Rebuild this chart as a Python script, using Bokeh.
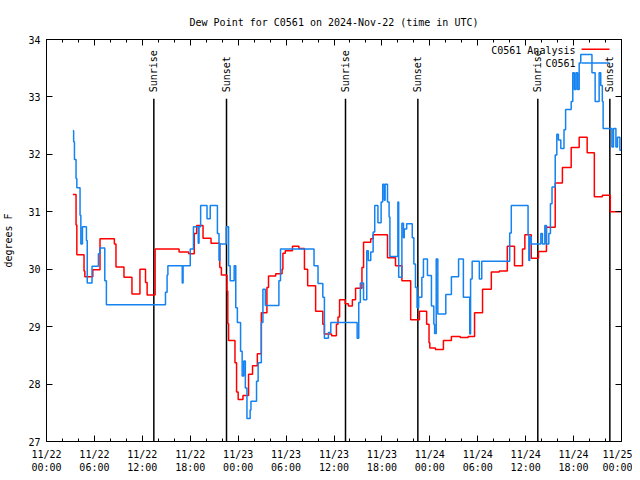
import math
from bokeh.plotting import figure
from bokeh.models import FixedTicker, LinearAxis, CustomJSTickFormatter, Range1d
from bokeh.core.properties import value
from bokeh.embed import file_html
from bokeh.resources import INLINE

FONT = "DejaVu Sans Mono"

# hours since 2024-11-22 00:00 UTC
analysis_hours = [3.3, 3.7, 3.8, 4.7, 4.8, 5.8, 6.7, 8.5, 8.7, 9.7, 10.7, 11.7, 12.4, 12.6,
                  13.6, 16.6, 17.8, 18.5, 18.8, 19.6, 20.6, 21.7, 21.9, 22.6, 22.7, 22.8,
                  23.6, 23.8, 24.0, 24.6, 25.3, 25.8, 26.4, 26.9, 27.6, 27.8, 28.7, 29.5,
                  29.6, 29.9, 30.8, 31.6, 32.3, 32.7, 33.7, 34.6, 34.8, 35.7, 36.3, 36.5,
                  36.7, 37.4, 37.8, 38.3, 38.7, 39.5, 39.7, 40.6, 40.9, 42.7, 43.7, 44.5,
                  45.6, 46.7, 47.6, 47.9, 48.0, 48.7, 49.7, 50.7, 51.8, 52.8, 53.6, 54.6,
                  55.7, 56.7, 57.7, 58.6, 59.6, 59.9, 60.7, 61.6, 62.6, 63.7, 64.6, 65.7,
                  66.7, 67.7, 68.6, 69.6, 70.6, 72.0]
analysis_dewpt = [31.30, 30.77, 30.25, 29.97, 29.87, 29.99, 30.53, 30.44, 30.04, 29.86, 29.57,
                  30.00, 29.77, 29.55, 30.35, 30.30, 30.27, 30.62, 30.76, 30.54, 30.45, 30.03,
                  29.90, 29.62, 29.05, 28.76, 28.37, 27.86, 27.73, 27.80, 28.17, 28.32, 28.53,
                  29.24, 29.68, 29.88, 29.92, 30.00, 30.28, 30.32, 30.40, 30.36, 30.00, 29.71,
                  29.27, 29.04, 28.87, 28.84, 29.04, 29.17, 29.47, 29.40, 29.36, 29.47, 29.67,
                  30.03, 30.47, 30.53, 30.60, 30.20, 30.06, 29.80, 29.12, 29.27, 29.04, 28.72,
                  28.63, 28.60, 28.76, 28.83, 28.81, 28.83, 29.24, 29.65, 29.95, 29.97, 30.40,
                  30.06, 30.35, 30.60, 30.19, 30.31, 30.73, 31.50, 31.77, 32.12, 32.30, 32.03,
                  31.26, 31.29, 31.00, 31.00]

station_hours = [3.3, 3.4, 3.5, 3.7, 3.8, 4.2, 4.3, 4.5, 5.0, 5.1, 5.7, 6.5, 6.7, 7.3, 7.5,
                 14.9, 15.1, 15.2, 17.0, 17.1, 18.0, 18.4, 19.0, 19.1, 19.3, 20.1, 20.5,
                 21.4, 21.6, 21.7, 22.5, 22.8, 23.0, 23.5, 23.7, 23.9, 24.3, 24.5, 24.7,
                 24.9, 25.1, 25.5, 25.6, 26.3, 26.5, 26.9, 27.1, 27.4, 29.1, 29.3, 33.5,
                 34.0, 34.6, 34.8, 35.3, 35.6, 38.9, 39.1, 39.3, 39.7, 40.1, 40.3, 40.6,
                 40.9, 41.1, 41.5, 41.9, 42.1, 42.3, 42.4, 42.7, 42.9, 43.0, 44.0, 44.1,
                 44.5, 44.7, 44.8, 45.1, 45.8, 46.0, 46.2, 46.4, 46.6, 47.0, 47.2, 47.7,
                 48.2, 48.5, 48.6, 48.8, 49.0, 50.0, 50.7, 51.6, 52.2, 53.0, 53.1, 53.3,
                 54.2, 54.5, 58.0, 58.2, 60.3, 60.4, 60.5, 60.7, 61.9, 62.1, 62.4, 62.6,
                 62.9, 63.1, 63.3, 63.7, 63.9, 64.1, 64.4, 64.8, 65.0, 65.7, 65.9, 66.1,
                 66.3, 66.5, 66.7, 66.9, 68.3, 68.7, 69.2, 69.4, 69.6, 69.7, 70.8, 71.0,
                 71.3, 71.5, 71.8, 72.0]
station_dewpt = [32.41, 32.22, 31.91, 31.58, 31.42, 30.94, 30.44, 30.74, 30.50, 29.76, 30.05,
                 30.27, 30.37, 29.80, 29.38, 29.60, 29.90, 30.06, 29.76, 30.06, 30.35, 30.74,
                 30.45, 30.74, 31.11, 30.88, 31.11, 30.62, 30.15, 30.44, 30.74, 30.06, 29.80,
                 30.06, 29.33, 29.07, 28.57, 28.14, 28.40, 27.93, 27.40, 27.55, 27.70, 28.05,
                 28.37, 29.07, 29.65, 29.37, 29.80, 30.35, 30.06, 29.75, 29.51, 28.80, 28.90,
                 29.07, 28.80, 29.42, 29.76, 29.47, 30.32, 30.15, 30.30, 30.65, 31.11, 30.81,
                 31.17, 31.48, 31.20, 31.48, 31.17, 30.91, 30.22, 31.17, 29.86, 30.80, 30.55,
                 30.70, 30.79, 30.55, 30.09, 29.68, 29.33, 29.51, 29.86, 30.18, 29.89, 29.36,
                 29.04, 28.88, 30.18, 29.22, 29.56, 29.87, 30.18, 29.51, 28.87, 29.83, 30.14,
                 29.83, 30.14, 30.63, 31.11, 30.60, 30.15, 30.56, 30.44, 30.62, 30.44, 30.76,
                 30.44, 30.62, 31.14, 31.43, 31.99, 32.35, 32.25, 32.10, 32.43, 32.78, 32.92,
                 33.42, 33.13, 33.42, 33.13, 33.59, 33.74, 33.42, 32.92, 33.42, 33.20, 32.92,
                 32.45, 32.13, 32.45, 32.13, 32.30, 32.07, 32.07]

sun_hours = [13.44, 22.54, 37.44, 46.5, 61.52, 70.54]
sun_labels = ["Sunrise", "Sunset", "Sunrise", "Sunset", "Sunrise", "Sunset"]

major_hours = [0, 6, 12, 18, 24, 30, 36, 42, 48, 54, 60, 66, 72]
minor_hours = list(range(0, 73, 2))
x_tick_labels = ["11/22\n00:00", "11/22\n06:00", "11/22\n12:00", "11/22\n18:00",
                 "11/23\n00:00", "11/23\n06:00", "11/23\n12:00", "11/23\n18:00",
                 "11/24\n00:00", "11/24\n06:00", "11/24\n12:00", "11/24\n18:00",
                 "11/25\n00:00"]
y_ticks = [27, 28, 29, 30, 31, 32, 33, 34]

series_names = ["C0561 Analysis", "C0561"]
series_colors = ["#ff0000", "#1482f0"]

p = figure(width=632, height=476, output_backend="svg", toolbar_location=None,
           x_range=Range1d(0, 72), y_range=Range1d(27, 34),
           min_border_left=46, min_border_right=11, min_border_top=39, min_border_bottom=35,
           title="Dew Point for C0561 on 2024-Nov-22 (time in UTC)")
p.title.text_font = FONT
p.title.text_font_size = "10px"
p.title.text_font_style = "normal"
p.title.text_color = "black"
p.title.align = "center"
p.title.standoff = 23
p.grid.visible = False
p.outline_line_color = "black"
p.outline_line_width = 1
p.background_fill_color = "white"
p.border_fill_color = "white"

xt = FixedTicker(ticks=major_hours, minor_ticks=minor_hours)
yt = FixedTicker(ticks=y_ticks, minor_ticks=[])

xa = p.xaxis[0]
xa.ticker = xt
xa.major_label_overrides = {h: s for h, s in zip(major_hours, x_tick_labels)}
xa.major_label_text_font = FONT
xa.major_label_text_font_size = "10px"
xa.major_label_text_color = "black"
xa.major_label_standoff = 7
xa.major_tick_in = 6
xa.major_tick_out = 0
xa.minor_tick_in = 3
xa.minor_tick_out = 0
xa.axis_line_color = "black"
xa.major_tick_line_color = "black"
xa.minor_tick_line_color = "black"

ya = p.yaxis[0]
ya.ticker = yt
ya.axis_label = "degrees F"
ya.axis_label_text_font = FONT
ya.axis_label_text_font_size = "10px"
ya.axis_label_text_font_style = "normal"
ya.axis_label_text_color = "black"
ya.axis_label_standoff = 11
ya.major_label_text_font = FONT
ya.major_label_text_font_size = "10px"
ya.major_label_text_color = "black"
ya.major_label_standoff = 6
ya.major_tick_in = 6
ya.major_tick_out = 0
ya.minor_tick_in = 0
ya.minor_tick_out = 0
ya.major_tick_line_color = "black"

blank = CustomJSTickFormatter(code="return ''")
top = LinearAxis(ticker=FixedTicker(ticks=major_hours, minor_ticks=minor_hours), formatter=blank,
                 major_tick_in=6, major_tick_out=0, minor_tick_in=3, minor_tick_out=0,
                 major_label_standoff=0, major_label_text_font_size="0px",
                 major_tick_line_color="black", minor_tick_line_color="black")
right = LinearAxis(ticker=FixedTicker(ticks=y_ticks, minor_ticks=[]), formatter=blank,
                   major_tick_in=6, major_tick_out=0, minor_tick_in=0, minor_tick_out=0,
                   major_label_standoff=0, major_label_text_font_size="0px",
                   major_tick_line_color="black")
p.add_layout(top, "above")
p.add_layout(right, "right")

# sunrise / sunset markers
p.segment(x0=sun_hours, y0=[27] * len(sun_hours), x1=sun_hours, y1=[32.97] * len(sun_hours),
          line_color="black", line_width=1.5)
p.text(x=sun_hours, y=[33.08] * len(sun_hours), text=sun_labels, angle=math.pi / 2,
       text_align="left", text_baseline="middle", text_font=value(FONT),
       text_font_size="10px", text_color="black")

# series
p.step(analysis_hours, analysis_dewpt, mode="after", line_color=series_colors[0], line_width=1.5)
p.step(station_hours, station_dewpt, mode="after", line_color=series_colors[1], line_width=1.5)

# gnuplot-style key (text then sample line)
key_y = [33.81, 33.58]
p.text(x=[66.24, 66.24], y=key_y, text=series_names, text_align="right",
       text_baseline="middle", text_font=value(FONT), text_font_size="10px", text_color="black")
p.segment(x0=[66.99, 66.99], y0=[33.83, 33.59], x1=[70.5, 70.5], y1=[33.83, 33.59],
          line_color=series_colors, line_width=1.5)

open("out.html", "w").write(file_html(p, INLINE))
